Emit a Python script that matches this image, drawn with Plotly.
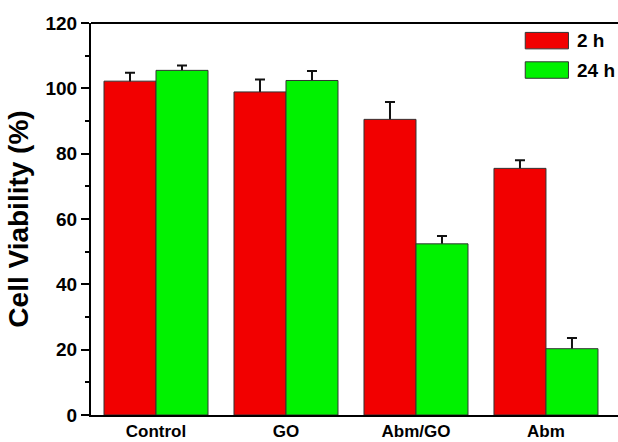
import plotly.graph_objects as go

categories = ["Control", "GO", "Abm/GO", "Abm"]
viab_2h = [102.2, 98.9, 90.5, 75.5]
err_2h = [2.6, 3.8, 5.3, 2.5]
viab_24h = [105.5, 102.4, 52.4, 20.3]
err_24h = [1.5, 2.9, 2.4, 3.3]
series_names = ["2 h", "24 h"]
colors = ["#f20000", "#00f200"]

FONT = "Liberation Sans, Arial, sans-serif"
BAR_W = 0.4
offsets = [-BAR_W, 0.0]
series = [(series_names[0], viab_2h, err_2h, colors[0]),
          (series_names[1], viab_24h, err_24h, colors[1])]

fig = go.Figure()
# error bars first (symmetric), lower half hidden by the bars drawn on top
for (name, vals, errs, col), off in zip(series, offsets):
    fig.add_trace(go.Bar(
        x=categories, y=vals, name=name + " err", width=BAR_W, offset=off,
        marker=dict(color="rgba(0,0,0,0)", line=dict(width=0)),
        error_y=dict(type="data", array=errs, color="#111111", thickness=2, width=5),
        showlegend=False, hoverinfo="skip",
    ))
for (name, vals, errs, col), off in zip(series, offsets):
    fig.add_trace(go.Bar(
        x=categories, y=vals, name=name, width=BAR_W, offset=off,
        marker=dict(color=col, line=dict(color="#333333", width=1)),
    ))

fig.update_layout(
    width=618, height=442,
    margin=dict(l=91, r=0, t=23, b=27, autoexpand=False),
    paper_bgcolor="white", plot_bgcolor="white",
    barmode="overlay",
    showlegend=False,
    font=dict(family=FONT, size=17, color="black"),
)
fig.update_xaxes(
    range=[-0.5, 3.554], type="category", automargin=False,
    showline=True, linecolor="black", linewidth=2,
    ticks="", showgrid=False,
    tickfont=dict(family=FONT, size=17, color="black", weight="bold"),
)
fig.update_yaxes(
    range=[0, 120], dtick=20, automargin=False,
    showline=True, linecolor="black", linewidth=2,
    ticks="outside", ticklen=8, tickwidth=2, tickcolor="black",
    minor=dict(dtick=10, ticks="outside", ticklen=4, tickwidth=2, tickcolor="black"),
    showgrid=False, zeroline=False,
    tickfont=dict(family=FONT, size=19, color="black", weight="bold"),
    title=dict(text="Cell Viability (%)", standoff=9,
               font=dict(family=FONT, size=28, color="black", weight="bold")),
)
# top frame line
fig.add_shape(type="line", xref="paper", yref="paper", x0=0, x1=1, y0=1, y1=1,
              line=dict(color="black", width=2))

# legend drawn manually to match the large swatches
leg_y = [0.955, 0.88]
for i, (name, col) in enumerate(zip(series_names, colors)):
    fig.add_shape(type="rect", xref="paper", yref="paper",
                  x0=0.824, x1=0.906, y0=leg_y[i] - 0.021, y1=leg_y[i] + 0.021,
                  fillcolor=col, line=dict(color="#333333", width=1))
    fig.add_annotation(xref="paper", yref="paper", x=0.918, y=leg_y[i],
                       text=name, showarrow=False, xanchor="left", yanchor="middle",
                       font=dict(family=FONT, size=19, color="black", weight="bold"))

fig.write_html("out.html")
